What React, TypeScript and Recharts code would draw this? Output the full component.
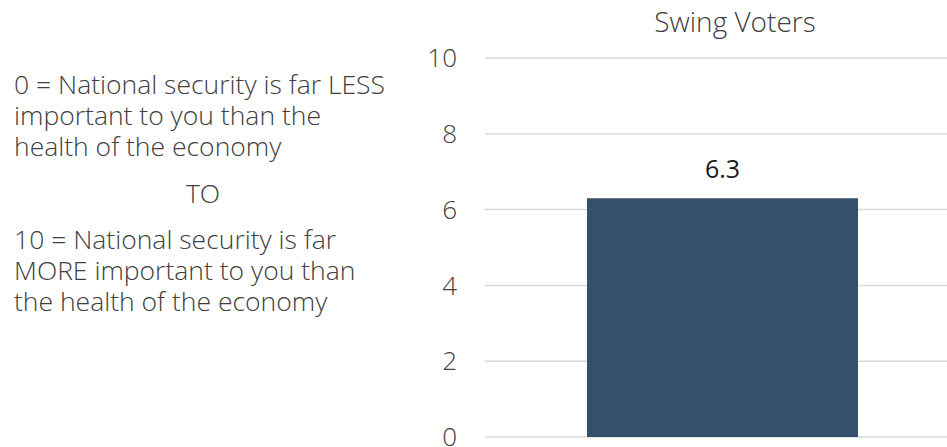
import { BarChart, Bar, XAxis, YAxis, CartesianGrid, LabelList } from 'recharts';

const categories = ['Swing Voters'];
const scores = [6.3];
const yTicks = [0, 2, 4, 6, 8, 10];

const scaleLines = [
  { text: '0 = National security is far LESS', align: 'left', y: 70 },
  { text: 'important to you than the', align: 'left', y: 101 },
  { text: 'health of the economy', align: 'left', y: 132 },
  { text: 'TO', align: 'center', y: 179 },
  { text: '10 = National security is far', align: 'left', y: 225 },
  { text: 'MORE important to you than', align: 'left', y: 256 },
  { text: 'the health of the economy', align: 'left', y: 287 },
];

const data = categories.map((name, i) => ({ name, score: scores[i] }));

const FONT = '"Open Sans", sans-serif';
const TEXT = '#404040';

export default function App() {
  return (
    <div
      style={{
        position: 'absolute',
        left: 0,
        top: 0,
        width: 947,
        height: 447,
        background: '#fff',
        fontFamily: FONT,
        overflow: 'hidden',
      }}
    >
      {scaleLines.map((l) => (
        <div
          key={l.text}
          style={{
            position: 'absolute',
            left: l.align === 'center' ? 3 : 14,
            width: l.align === 'center' ? 400 : 440,
            top: l.y,
            fontSize: 26.5,
            fontWeight: 300,
            lineHeight: '28px',
            color: TEXT,
            textAlign: l.align as 'left' | 'center',
            whiteSpace: 'nowrap',
          }}
        >
          {l.text}
        </div>
      ))}

      <div
        style={{
          position: 'absolute',
          left: 635,
          width: 200,
          top: 5.5,
          textAlign: 'center',
          fontSize: 28,
          fontWeight: 300,
          lineHeight: '30px',
          color: TEXT,
        }}
      >
        {categories[0]}
      </div>

      <div style={{ position: 'absolute', left: 0, top: 0 }}>
        <BarChart
          width={960}
          height={447}
          data={data}
          margin={{ top: 58, right: 0, bottom: 10, left: 0 }}
        >
          <CartesianGrid vertical={false} stroke="#d9d9d9" strokeWidth={1.5} />
          <XAxis dataKey="name" hide />
          <YAxis
            width={485}
            domain={[0, 10]}
            ticks={yTicks}
            interval={0}
            axisLine={false}
            tickLine={false}
            tickSize={6}
            tickMargin={22}
            tick={{ fill: TEXT, fontSize: 26, fontWeight: 300, fontFamily: FONT }}
          />
          <Bar dataKey="score" fill="#36506c" barSize={271} isAnimationActive={false}>
            <LabelList
              dataKey="score"
              position="top"
              offset={20}
              fill="#1a1a1a"
              fontSize={25}
              fontFamily={FONT}
            />
          </Bar>
        </BarChart>
      </div>
    </div>
  );
}
